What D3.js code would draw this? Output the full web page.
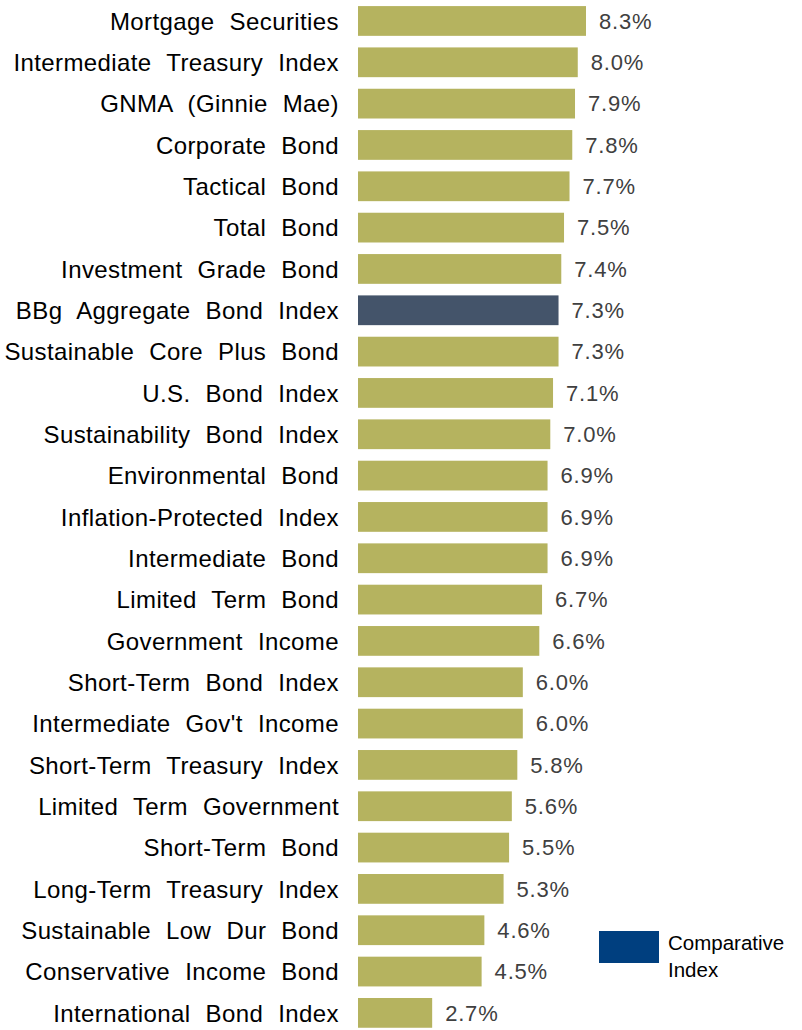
<!DOCTYPE html>
<html>
<head>
<meta charset="utf-8">
<script src="https://cdn.jsdelivr.net/npm/d3@7"></script>
<style>
  body { margin: 0; background: #fff; }
  svg { display: block; }
</style>
</head>
<body>
<div id="chart"></div>
<script>
// fund names, top to bottom
const categories = [
  "Mortgage Securities", "Intermediate Treasury Index", "GNMA (Ginnie Mae)",
  "Corporate Bond", "Tactical Bond", "Total Bond", "Investment Grade Bond",
  "BBg Aggregate Bond Index", "Sustainable Core Plus Bond", "U.S. Bond Index",
  "Sustainability Bond Index", "Environmental Bond", "Inflation-Protected Index",
  "Intermediate Bond", "Limited Term Bond", "Government Income",
  "Short-Term Bond Index", "Intermediate Gov't Income", "Short-Term Treasury Index",
  "Limited Term Government", "Short-Term Bond", "Long-Term Treasury Index",
  "Sustainable Low Dur Bond", "Conservative Income Bond", "International Bond Index"
];
const values = [
  8.3, 8.0, 7.9, 7.8, 7.7, 7.5, 7.4, 7.3, 7.3, 7.1, 7.0, 6.9, 6.9,
  6.9, 6.7, 6.6, 6.0, 6.0, 5.8, 5.6, 5.5, 5.3, 4.6, 4.5, 2.7
];
const comparative = ["BBg Aggregate Bond Index"];
const legendLabels = ["Comparative", "Index"];

const width = 802, height = 1030;
const gold = "#b5b35f", slate = "#44546a", navy = "#003f7f";

const svg = d3.select("#chart").append("svg")
  .attr("width", width)
  .attr("height", height);

const data = categories.map((c, i) => ({ name: c, value: values[i] }));

// x: percent -> pixels, bars start at 358
const x = d3.scaleLinear().domain([0, 8.3]).range([358, 586]);
const y = d3.scaleBand()
  .domain(categories)
  .range([0.3, 0.3 + 25 * 41.33])
  .paddingInner(0.28)
  .paddingOuter(0.14);

// bars
svg.append("g").selectAll("rect")
  .data(data)
  .join("rect")
  .attr("x", x(0))
  .attr("y", d => y(d.name))
  .attr("width", d => x(d.value) - x(0))
  .attr("height", y.bandwidth())
  .attr("fill", d => comparative.includes(d.name) ? slate : gold);

// category labels
svg.append("g").selectAll("text")
  .data(data)
  .join("text")
  .attr("x", 339)
  .attr("y", d => y(d.name) + y.bandwidth() / 2)
  .attr("dy", "0.36em")
  .attr("text-anchor", "end")
  .style("font-family", "Liberation Sans, Arial, sans-serif")
  .style("font-size", "24px")
  .style("letter-spacing", "0.4px")
  .style("word-spacing", "8px")
  .attr("fill", "#000")
  .text(d => d.name);

// value labels
svg.append("g").selectAll("text")
  .data(data)
  .join("text")
  .attr("x", d => x(d.value) + 13)
  .attr("y", d => y(d.name) + y.bandwidth() / 2)
  .attr("dy", "0.35em")
  .style("font-family", "Liberation Sans, Arial, sans-serif")
  .style("font-size", "22px")
  .style("letter-spacing", "0.8px")
  .attr("fill", "#404040")
  .text(d => d.value.toFixed(1) + "%");

// legend
const lg = svg.append("g");
lg.append("rect")
  .attr("x", 599).attr("y", 931)
  .attr("width", 60).attr("height", 32)
  .attr("fill", navy);
lg.append("text")
  .attr("x", 668).attr("y", 950)
  .style("font-family", "Liberation Sans, Arial, sans-serif")
  .style("font-size", "20.5px")
  .attr("fill", "#000")
  .selectAll("tspan")
  .data(legendLabels)
  .join("tspan")
  .attr("x", 668)
  .attr("dy", (d, i) => i ? 27 : 0)
  .text(d => d);
</script>
</body>
</html>
